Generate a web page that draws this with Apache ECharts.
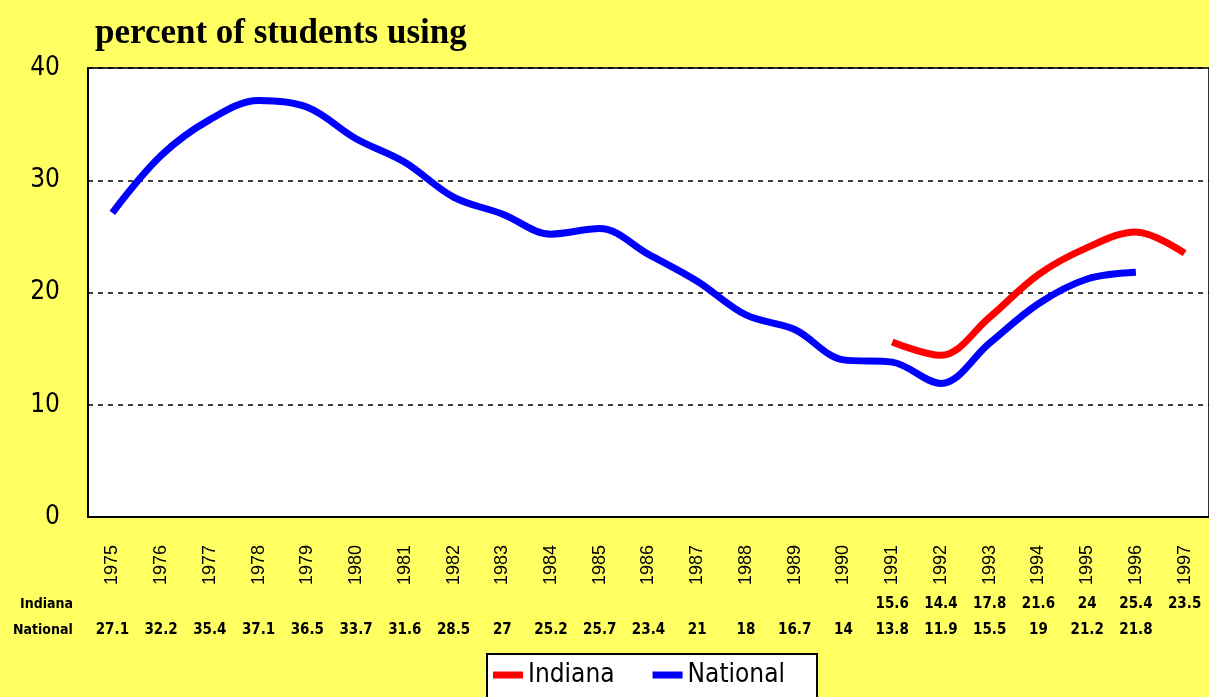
<!DOCTYPE html>
<html>
<head>
<meta charset="utf-8">
<script src="https://cdn.jsdelivr.net/npm/echarts@6/dist/echarts.min.js"></script>
<style>
  html, body { margin: 0; padding: 0; }
  body { background: #ffff62; }
  #chart { width: 1209px; height: 697px; }
</style>
</head>
<body>
<div id="chart"></div>
<script>
// survey years and the two series
const years = ['1975', '1976', '1977', '1978', '1979', '1980', '1981', '1982', '1983', '1984', '1985', '1986',
  '1987', '1988', '1989', '1990', '1991', '1992', '1993', '1994', '1995', '1996', '1997'];
const indiana = [null, null, null, null, null, null, null, null, null, null, null, null,
  null, null, null, null, 15.6, 14.4, 17.8, 21.6, 24, 25.4, 23.5];
const national = [27.1, 32.2, 35.4, 37.1, 36.5, 33.7, 31.6, 28.5, 27, 25.2, 25.7, 23.4,
  21, 18, 16.7, 14, 13.8, 11.9, 15.5, 19, 21.2, 21.8, null];
const yTicks = [0, 10, 20, 30, 40];

const narrow = '"DejaVu Sans Condensed", "Liberation Sans", sans-serif';
const toText = v => (v == null ? '' : String(v));

// one hidden category axis per table row, so the numbers sit under their year
function tableAxis(values, offset) {
  return {
    type: 'category',
    data: values.map(toText),
    position: 'bottom',
    offset: offset,
    axisLine: { show: false },
    axisTick: { show: false },
    axisLabel: {
      interval: 0,
      margin: 0,
      color: '#000',
      fontFamily: narrow,
      fontWeight: 'bold',
      fontSize: 15
    }
  };
}

let chart = echarts.init(document.getElementById('chart'), null, { renderer: 'canvas' });
let option = {
  backgroundColor: 'transparent',
  animation: false,
  title: {
    text: 'percent of students using',
    left: 90,
    top: 11,
    textStyle: {
      fontFamily: '"Liberation Serif", "DejaVu Serif", serif',
      fontWeight: 'bold',
      fontSize: 35,
      color: '#000'
    }
  },
  grid: {
    left: 88,
    top: 68,
    width: 1126,
    height: 449,
    show: true,
    backgroundColor: '#fff',
    borderColor: '#333',
    borderWidth: 2
  },
  legend: {
    left: 487,
    top: 654,
    backgroundColor: '#fff',
    borderColor: '#000',
    borderWidth: 2,
    borderRadius: 0,
    padding: [8, 32, 20, 6],
    itemGap: 38,
    itemWidth: 30,
    itemHeight: 7,
    icon: 'rect',
    textStyle: { fontFamily: narrow, fontSize: 26, color: '#000' },
    data: ['Indiana', 'National']
  },
  graphic: [
    { type: 'text', left: 20, top: 597, style: { text: 'Indiana', font: 'bold 14px ' + narrow, fill: '#000' } },
    { type: 'text', left: 13, top: 623, style: { text: 'National', font: 'bold 14px ' + narrow, fill: '#000' } }
  ],
  xAxis: [
    {
      type: 'category',
      data: years,
      boundaryGap: true,
      axisLine: { show: true, lineStyle: { color: '#000', width: 2 } },
      axisTick: { show: false },
      axisLabel: {
        interval: 0,
        rotate: 90,
        margin: 28,
        color: '#000',
        fontFamily: '"Liberation Sans", sans-serif',
        fontSize: 18
      }
    },
    tableAxis(indiana, 80),
    tableAxis(national, 106)
  ],
  yAxis: {
    type: 'value',
    min: yTicks[0],
    max: yTicks[yTicks.length - 1],
    interval: 10,
    axisLine: { show: true, lineStyle: { color: '#000', width: 2 } },
    axisTick: { show: false },
    axisLabel: {
      margin: 28,
      color: '#000',
      fontFamily: narrow,
      fontSize: 26
    },
    splitLine: {
      show: true,
      lineStyle: { color: '#000', width: 1.5, type: [5, 5] }
    }
  },
  series: [
    {
      name: 'Indiana',
      type: 'line',
      data: indiana,
      smooth: 0.35,
      symbol: 'none',
      itemStyle: { color: '#ff0000' },
      lineStyle: { color: '#ff0000', width: 7 }
    },
    {
      name: 'National',
      type: 'line',
      data: national,
      smooth: 0.35,
      symbol: 'none',
      itemStyle: { color: '#0000ff' },
      lineStyle: { color: '#0000ff', width: 7 }
    }
  ]
};
chart.setOption(option);
</script>
</body>
</html>
